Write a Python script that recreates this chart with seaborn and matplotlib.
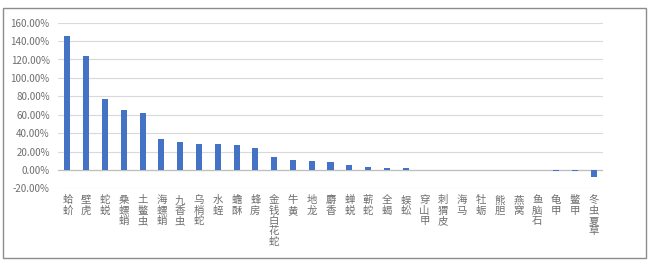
import matplotlib
matplotlib.use("Agg")
import matplotlib.pyplot as plt
import seaborn as sns
import pandas as pd
from matplotlib.patches import Rectangle
from matplotlib.ticker import FuncFormatter

categories = ["蛤蚧", "壁虎", "蛇蜕", "桑螵蛸", "土鳖虫", "海螵蛸", "九香虫", "乌梢蛇", "水蛭",
              "蟾酥", "蜂房", "金钱白花蛇", "牛黄", "地龙", "麝香", "蝉蜕", "蕲蛇", "全蝎", "蜈蚣",
              "穿山甲", "刺猬皮", "海马", "牡蛎", "熊胆", "燕窝", "鱼脑石", "龟甲", "鳖甲", "冬虫夏草"]
values = [145.0, 124.0, 77.0, 65.0, 62.0, 33.5, 30.3, 28.5, 28.0,
          27.0, 23.8, 14.0, 10.5, 9.4, 8.3, 5.4, 3.2, 2.2, 1.8,
          0.0, 0.0, 0.0, 0.0, 0.0, 0.0, 0.0, -1.5, -1.5, -8.0]
y_ticks = [-20, 0, 20, 40, 60, 80, 100, 120, 140, 160]

sns.set_theme(style="white")
plt.rcParams['font.family'] = ['Noto Sans CJK SC', 'DejaVu Sans']

fig = plt.figure(figsize=(6.54, 2.65), dpi=100)
ax = fig.add_axes([58/654, (265-188.3)/265, (603-58)/654, (188.3-22.7)/265])

df = pd.DataFrame({"cat": ["\n".join(c) for c in categories], "val": values})
sns.barplot(data=df, x="cat", y="val", color="#4472C4", width=0.32, ax=ax, zorder=3,
            saturation=1, linewidth=0, edgecolor="none")

ax.set_ylim(-20, 160)
ax.set_xlim(-0.5, len(categories) - 0.5)
ax.set_yticks(y_ticks)
ax.yaxis.set_major_formatter(FuncFormatter(lambda v, p: f"{v:.2f}%"))
for yt in y_ticks:
    ax.axhline(yt, color="#d9d9d9", lw=0.8, zorder=1)
ax.axhline(0, color="#bfbfbf", lw=0.9, zorder=2)

for s in ax.spines.values():
    s.set_visible(False)
ax.set_xlabel("")
ax.set_ylabel("")
ax.tick_params(axis="y", length=0, pad=6, labelsize=7, labelcolor="#6e6e6e")
ax.tick_params(axis="x", length=0, pad=5, labelsize=7.5, labelcolor="#6e6e6e")
for lbl in ax.get_xticklabels():
    lbl.set_linespacing(1.05)
    lbl.set_verticalalignment("top")

fig.patches.append(Rectangle((3/654, 7/265), 643/654, 250/265, transform=fig.transFigure,
                             fill=False, edgecolor="#8c8c8c", lw=1.0))

fig.savefig("out.png", dpi=100)
